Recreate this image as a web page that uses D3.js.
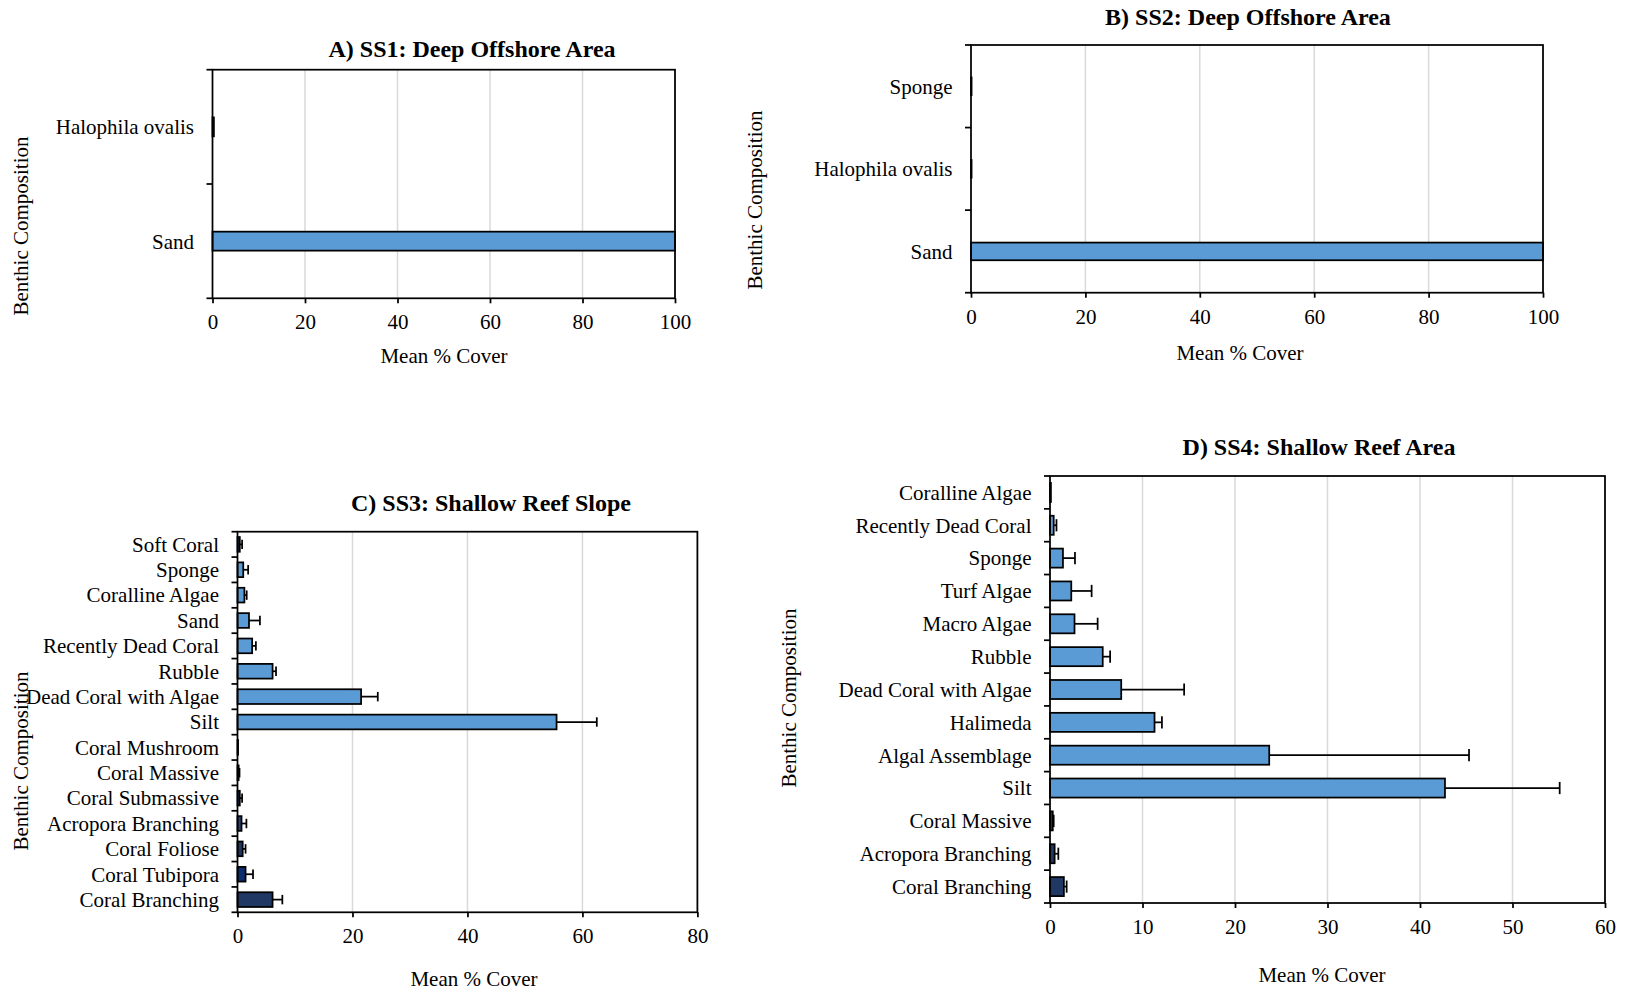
<!DOCTYPE html>
<html>
<head>
<meta charset="utf-8">
<script src="https://cdnjs.cloudflare.com/ajax/libs/d3/7.8.5/d3.min.js"></script>
<style>
  body { margin: 0; background: #fff; }
  svg text { font-family: "Liberation Serif", "Times New Roman", serif; fill: #000; }
</style>
</head>
<body>
<div id="content"></div>
<script>
// ---- data (categories listed bottom to top) ----
var catsA = ["Sand", "Halophila ovalis"];
var meanA = [100, 0.3];
var sdA = [0, 0];
var colA = ["#5b9bd5", "#5b9bd5"];

var catsB = ["Sand", "Halophila ovalis", "Sponge"];
var meanB = [100, 0.1, 0.1];
var sdB = [0, 0, 0];
var colB = ["#5b9bd5", "#5b9bd5", "#5b9bd5"];

var catsC = ["Coral Branching", "Coral Tubipora", "Coral Foliose", "Acropora Branching",
  "Coral Submassive", "Coral Massive", "Coral Mushroom", "Silt", "Dead Coral with Algae",
  "Rubble", "Recently Dead Coral", "Sand", "Coralline Algae", "Sponge", "Soft Coral"];
var meanC = [6.1, 1.4, 0.9, 0.7, 0.4, 0.2, 0.1, 55.5, 21.5, 6.1, 2.55, 2.0, 1.2, 1.0, 0.4];
var sdC = [1.7, 1.3, 0.5, 0.85, 0.4, 0.15, 0, 7.0, 2.9, 0.6, 0.65, 1.9, 0.4, 0.85, 0.4];
var colC = ["#203864", "#0c2d70", "#1f3864", "#28467c", "#1f3864", "#1f3864", "#1f3864",
  "#5b9bd5", "#5b9bd5", "#5b9bd5", "#5b9bd5", "#5b9bd5", "#5b9bd5", "#5b9bd5", "#1f3864"];

var catsD = ["Coral Branching", "Acropora Branching", "Coral Massive", "Silt", "Algal Assemblage",
  "Halimeda", "Dead Coral with Algae", "Rubble", "Macro Algae", "Turf Algae", "Sponge",
  "Recently Dead Coral", "Coralline Algae"];
var meanD = [1.5, 0.5, 0.3, 42.7, 23.7, 11.3, 7.7, 5.7, 2.65, 2.3, 1.4, 0.4, 0.1];
var sdD = [0.3, 0.4, 0.1, 12.4, 21.6, 0.8, 6.8, 0.8, 2.5, 2.2, 1.3, 0.3, 0];
var colD = ["#203864", "#1f3864", "#1f3864", "#5b9bd5", "#5b9bd5", "#5b9bd5", "#5b9bd5",
  "#5b9bd5", "#5b9bd5", "#5b9bd5", "#5b9bd5", "#5b9bd5", "#5b9bd5"];

var ticksA = [0, 20, 40, 60, 80, 100];
var ticksB = [0, 20, 40, 60, 80, 100];
var ticksC = [0, 20, 40, 60, 80];
var ticksD = [0, 10, 20, 30, 40, 50, 60];

var titles = ["A) SS1: Deep Offshore Area", "B) SS2: Deep Offshore Area",
  "C) SS3: Shallow Reef Slope", "D) SS4: Shallow Reef Area"];
var xTitle = "Mean % Cover", yTitle = "Benthic Composition";

var svg = d3.select("#content").append("svg").attr("width", 1627).attr("height", 995);

function drawPanel(p) {
  var g = svg.append("g");
  var x = d3.scaleLinear().domain([0, p.max]).range([p.L, p.R]);
  var y = d3.scaleBand().domain(p.cats).range([p.B, p.T])
    .paddingInner(p.pad).paddingOuter(p.pad / 2);
  var step = y.step();

  // vertical gridlines
  g.selectAll("line.grid").data(p.ticks.slice(1)).enter().append("line")
    .attr("x1", d => x(d)).attr("x2", d => x(d))
    .attr("y1", p.T).attr("y2", p.B)
    .style("stroke", "#d9d9d9").style("stroke-width", 1.5);

  // x axis
  var xAxis = d3.axisBottom(x).tickValues(p.ticks).tickSize(5).tickPadding(11)
    .tickFormat(d3.format("d"));
  var ga = g.append("g").attr("transform", "translate(0," + p.B + ")").call(xAxis);
  ga.select(".domain").remove();
  ga.selectAll(".tick line").style("stroke", "#000").style("stroke-width", 1.75);
  ga.selectAll(".tick text").style("font-size", "21px").style("font-family", "Liberation Serif");

  // left tick marks at band boundaries
  var bounds = d3.range(p.cats.length + 1);
  g.selectAll("line.ytick").data(bounds).enter().append("line")
    .attr("x1", p.L - 6).attr("x2", p.L)
    .attr("y1", d => p.B - d * step).attr("y2", d => p.B - d * step)
    .style("stroke", "#000").style("stroke-width", 1.75);

  // category labels
  g.selectAll("text.cat").data(p.cats).enter().append("text")
    .attr("x", p.L - 18.5).attr("y", d => y(d) + y.bandwidth() / 2)
    .attr("dy", "0.35em").attr("text-anchor", "end")
    .style("font-size", "21px").text(d => d);

  // error bars
  var eb = g.selectAll("g.err").data(p.cats).enter().append("g");
  eb.filter((d, i) => p.sd[i] > 0).each(function(d) {
    var i = p.cats.indexOf(d);
    var cy = y(d) + y.bandwidth() / 2, h = y.bandwidth() * 0.32;
    var s = d3.select(this);
    s.append("line").attr("x1", x(p.mean[i])).attr("x2", x(p.mean[i] + p.sd[i]))
      .attr("y1", cy).attr("y2", cy).style("stroke", "#000").style("stroke-width", 1.75);
    s.append("line").attr("x1", x(p.mean[i] + p.sd[i])).attr("x2", x(p.mean[i] + p.sd[i]))
      .attr("y1", cy - h).attr("y2", cy + h).style("stroke", "#000").style("stroke-width", 1.75);
  });

  // bars
  g.selectAll("rect.bar").data(p.cats).enter().append("rect")
    .attr("x", p.L).attr("y", d => y(d))
    .attr("width", (d, i) => x(p.mean[i]) - p.L)
    .attr("height", y.bandwidth())
    .style("fill", (d, i) => p.col[i])
    .style("stroke", "#000").style("stroke-width", 1.75);

  // frame
  g.append("rect").attr("x", p.L).attr("y", p.T)
    .attr("width", p.R - p.L).attr("height", p.B - p.T)
    .style("fill", "none").style("stroke", "#000").style("stroke-width", 1.75);

  // titles
  g.append("text").attr("x", p.title[0]).attr("y", p.title[1]).attr("dy", "0.35em")
    .attr("text-anchor", "middle").style("font-size", "24px").style("font-weight", "bold")
    .text(p.name);
  g.append("text").attr("x", p.xl[0]).attr("y", p.xl[1]).attr("dy", "0.35em")
    .attr("text-anchor", "middle").style("font-size", "21px").text(xTitle);
  g.append("text").attr("transform", "translate(" + p.yl[0] + "," + p.yl[1] + ") rotate(-90)")
    .attr("dy", "0.35em").attr("text-anchor", "middle").style("font-size", "21px").text(yTitle);
}

drawPanel({name: titles[0], cats: catsA, mean: meanA, sd: sdA, col: colA, ticks: ticksA, max: 100,
  L: 212.5, R: 675, T: 69.7, B: 298.3, pad: 0.834,
  title: [472, 49], xl: [444, 356], yl: [21, 226]});
drawPanel({name: titles[1], cats: catsB, mean: meanB, sd: sdB, col: colB, ticks: ticksB, max: 100,
  L: 971, R: 1543, T: 45, B: 292.7, pad: 0.786,
  title: [1248, 17], xl: [1240, 353], yl: [755, 200]});
drawPanel({name: titles[2], cats: catsC, mean: meanC, sd: sdC, col: colC, ticks: ticksC, max: 80,
  L: 237.5, R: 697.4, T: 531.7, B: 912.3, pad: 0.42,
  title: [491, 503], xl: [474, 978.5], yl: [21, 761]});
drawPanel({name: titles[3], cats: catsD, mean: meanD, sd: sdD, col: colD, ticks: ticksD, max: 60,
  L: 1050, R: 1605, T: 476, B: 903, pad: 0.42,
  title: [1319, 447], xl: [1322, 975], yl: [789, 698]});
</script>
</body>
</html>
